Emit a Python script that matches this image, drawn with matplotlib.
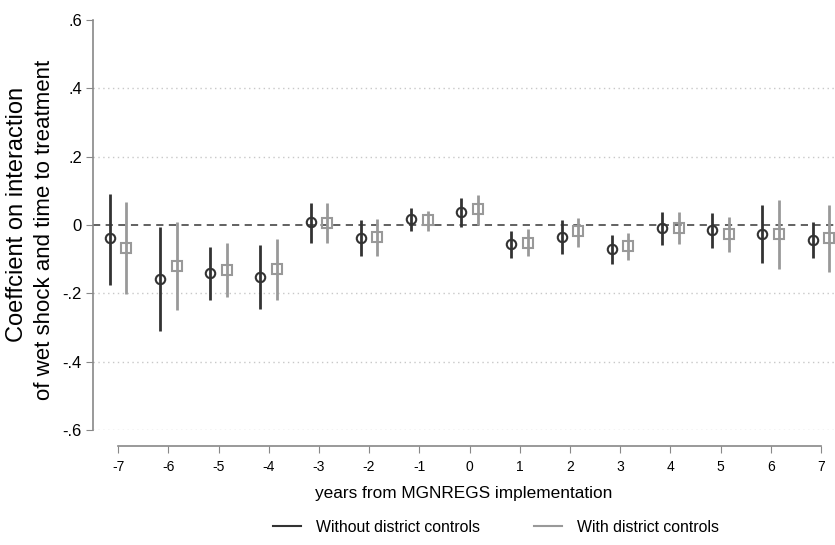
import numpy as np
import matplotlib.pyplot as plt

plt.rcParams["font.family"] = ["Liberation Sans", "DejaVu Sans"]

years = [-7, -6, -5, -4, -3, -2, -1, 0, 1, 2, 3, 4, 5, 6, 7]

# without district controls
coef_a = [-0.039, -0.157, -0.141, -0.151, 0.008, -0.037, 0.017, 0.037,
          -0.056, -0.036, -0.071, -0.008, -0.015, -0.026, -0.044]
lo_a = [-0.175, -0.311, -0.219, -0.246, -0.053, -0.092, -0.017, -0.007,
        -0.097, -0.085, -0.114, -0.058, -0.066, -0.112, -0.097]
hi_a = [0.092, -0.005, -0.063, -0.058, 0.065, 0.015, 0.049, 0.078,
        -0.017, 0.015, -0.029, 0.039, 0.036, 0.060, 0.010]

# with district controls
coef_b = [-0.066, -0.119, -0.131, -0.128, 0.005, -0.034, 0.015, 0.046,
          -0.052, -0.019, -0.061, -0.010, -0.027, -0.027, -0.039]
lo_b = [-0.201, -0.250, -0.211, -0.219, -0.053, -0.090, -0.019, 0.000,
        -0.092, -0.063, -0.102, -0.055, -0.080, -0.129, -0.139]
hi_b = [0.068, 0.008, -0.053, -0.041, 0.065, 0.017, 0.042, 0.089,
        -0.013, 0.020, -0.022, 0.037, 0.024, 0.073, 0.060]

dark = "#333333"
light = "#999999"
shift = 0.165

fig = plt.figure(figsize=(8.35, 5.45), dpi=100)
ax = fig.add_axes([93 / 835, (545 - 430) / 545, (835 - 93) / 835, 410 / 545])

x = np.array(years)
xa = x - shift
xb = x + shift

# reference lines
for g in [-0.6, -0.4, -0.2, 0.2, 0.4]:
    ax.axhline(g, color="#c8c8c8", lw=1, ls=(0, (1, 2.5)), zorder=0)
ax.axhline(0, color="#555555", lw=1.3, ls=(0, (4, 3)), zorder=1)

ax.vlines(xa, lo_a, hi_a, color=dark, lw=2, zorder=2)
ax.vlines(xb, lo_b, hi_b, color=light, lw=2, zorder=2)
ax.plot(xa, coef_a, "o", ms=6.8, mfc="none", mec=dark, mew=1.5, zorder=3)
ax.plot(xb, coef_b, "s", ms=7.2, mfc="none", mec=light, mew=1.5, zorder=3)

ax.set_xlim(-7.5, 7.28)
ax.set_ylim(-0.6, 0.6)

for s in ["top", "right"]:
    ax.spines[s].set_visible(False)
ax.spines["left"].set_bounds(-0.6, 0.6)
ax.spines["bottom"].set_bounds(-7, 7)
ax.spines["bottom"].set_position(("outward", 11.5))
for s in ["left", "bottom"]:
    ax.spines[s].set_color("#888888")
    ax.spines[s].set_linewidth(1.2)

ax.set_xticks(years)
ax.set_xticklabels([str(v) for v in years])
ax.set_yticks([-0.6, -0.4, -0.2, 0, 0.2, 0.4, 0.6])
ax.set_yticklabels(["-.6", "-.4", "-.2", "0", ".2", ".4", ".6"])
ax.tick_params(axis="x", length=5, color="#888888", labelsize=10, pad=5)
ax.tick_params(axis="y", length=5, color="#888888", labelsize=12, pad=3)

ax.set_xlabel("years from MGNREGS implementation", fontsize=12.4, labelpad=9)

# two-line y title, each line placed on its own
fig.text(17 / 835, 1 - 214 / 545, "Coeffcient on interaction", rotation=90,
         ha="center", va="center", fontsize=17)
fig.text(45 / 835, 1 - 230 / 545, "of wet shock and time to treatment",
         rotation=90, ha="center", va="center", fontsize=16)

handles = [plt.Line2D([], [], color=dark, lw=1.5),
           plt.Line2D([], [], color=light, lw=1.5)]
fig.legend(handles, ["Without district controls", "With district controls"],
           loc="center", bbox_to_anchor=(496 / 835, 1 - 527 / 545), ncol=2,
           frameon=False, fontsize=11.4, handlelength=1.75, columnspacing=3.4,
           handletextpad=0.95)

fig.savefig("out.png", dpi=100)
plt.close(fig)
